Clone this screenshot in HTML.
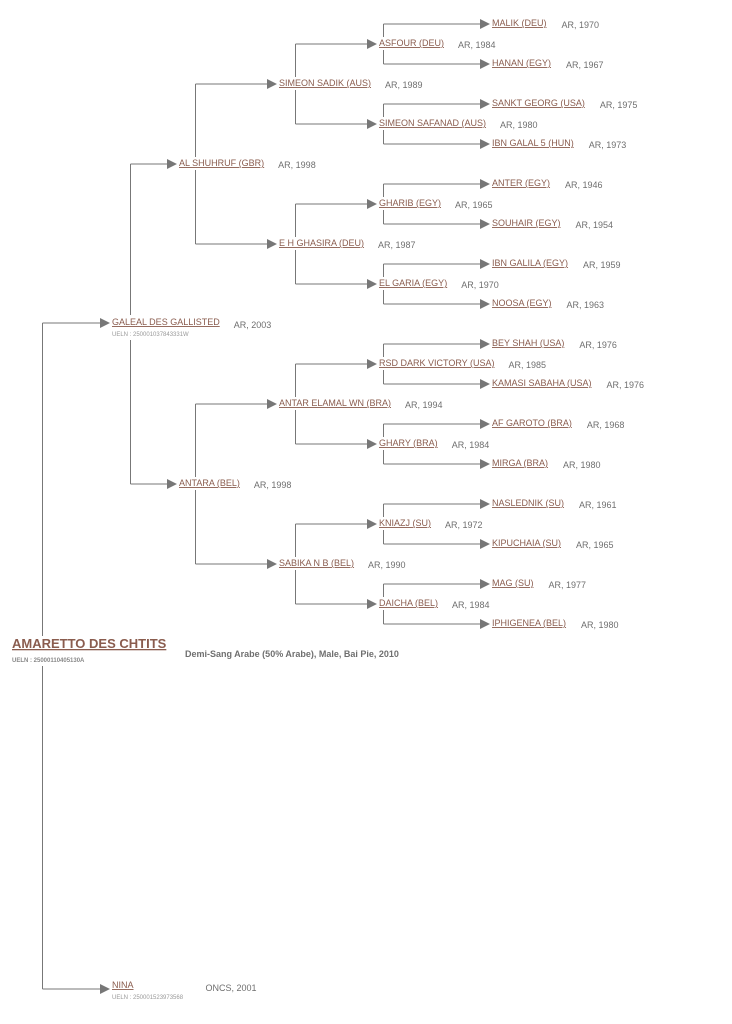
<!DOCTYPE html>
<html><head><meta charset="utf-8"><style>
body{margin:0;background:#fff;width:732px;height:1024px;overflow:hidden}
svg{display:block}
text{font-family:"Liberation Sans",sans-serif}
.n{font-size:9px;fill:#8a5c4e;text-decoration:underline}
.y{font-size:9px;fill:#6f6f6f}
.u{font-size:6px;fill:#999}
</style></head><body>
<svg width="732" height="1024" viewBox="0 0 732 1024">
<g stroke="#777" stroke-width="1" fill="none">
<path d="M383.5 24V37M383.5 50V64M383.5 24H480M383.5 64H480"/>
<path d="M383.5 104V117M383.5 130V144M383.5 104H480M383.5 144H480"/>
<path d="M383.5 184V197M383.5 210V224M383.5 184H480M383.5 224H480"/>
<path d="M383.5 264V277M383.5 290V304M383.5 264H480M383.5 304H480"/>
<path d="M383.5 344V357M383.5 370V384M383.5 344H480M383.5 384H480"/>
<path d="M383.5 424V437M383.5 450V464M383.5 424H480M383.5 464H480"/>
<path d="M383.5 504V517M383.5 530V544M383.5 504H480M383.5 544H480"/>
<path d="M383.5 584V597M383.5 610V624M383.5 584H480M383.5 624H480"/>
<path d="M295.5 44V77M295.5 90V124M295.5 44H367M295.5 124H367"/>
<path d="M295.5 204V237M295.5 250V284M295.5 204H367M295.5 284H367"/>
<path d="M295.5 364V397M295.5 410V444M295.5 364H367M295.5 444H367"/>
<path d="M295.5 524V557M295.5 570V604M295.5 524H367M295.5 604H367"/>
<path d="M195.5 84V157M195.5 170V244M195.5 84H267M195.5 244H267"/>
<path d="M195.5 404V477M195.5 490V564M195.5 404H267M195.5 564H267"/>
<path d="M130.5 164V315M130.5 340V484M130.5 164H167M130.5 484H167"/>
<path d="M42.5 323V636M42.5 666V989M42.5 323H100M42.5 989H100"/>
</g>
<g fill="#777">
<polygon points="480,19 490,24 480,29"/><polygon points="480,59 490,64 480,69"/>
<polygon points="480,99 490,104 480,109"/><polygon points="480,139 490,144 480,149"/>
<polygon points="480,179 490,184 480,189"/><polygon points="480,219 490,224 480,229"/>
<polygon points="480,259 490,264 480,269"/><polygon points="480,299 490,304 480,309"/>
<polygon points="480,339 490,344 480,349"/><polygon points="480,379 490,384 480,389"/>
<polygon points="480,419 490,424 480,429"/><polygon points="480,459 490,464 480,469"/>
<polygon points="480,499 490,504 480,509"/><polygon points="480,539 490,544 480,549"/>
<polygon points="480,579 490,584 480,589"/><polygon points="480,619 490,624 480,629"/>
<polygon points="367,39 377,44 367,49"/><polygon points="367,119 377,124 367,129"/>
<polygon points="367,199 377,204 367,209"/><polygon points="367,279 377,284 367,289"/>
<polygon points="367,359 377,364 367,369"/><polygon points="367,439 377,444 367,449"/>
<polygon points="367,519 377,524 367,529"/><polygon points="367,599 377,604 367,609"/>
<polygon points="267,79 277,84 267,89"/><polygon points="267,239 277,244 267,249"/>
<polygon points="267,399 277,404 267,409"/><polygon points="267,559 277,564 267,569"/>
<polygon points="167,159 177,164 167,169"/><polygon points="167,479 177,484 167,489"/>
<polygon points="100,318 110,323 100,328"/><polygon points="100,984 110,989 100,994"/>
</g>
<text x="492" y="26"><tspan class="n">MALIK (DEU)</tspan><tspan class="y" dx="15" dy="2">AR, 1970</tspan></text>
<text x="492" y="66"><tspan class="n">HANAN (EGY)</tspan><tspan class="y" dx="15" dy="2">AR, 1967</tspan></text>
<text x="492" y="106"><tspan class="n">SANKT GEORG (USA)</tspan><tspan class="y" dx="15" dy="2">AR, 1975</tspan></text>
<text x="492" y="146"><tspan class="n">IBN GALAL 5 (HUN)</tspan><tspan class="y" dx="15" dy="2">AR, 1973</tspan></text>
<text x="492" y="186"><tspan class="n">ANTER (EGY)</tspan><tspan class="y" dx="15" dy="2">AR, 1946</tspan></text>
<text x="492" y="226"><tspan class="n">SOUHAIR (EGY)</tspan><tspan class="y" dx="15" dy="2">AR, 1954</tspan></text>
<text x="492" y="266"><tspan class="n">IBN GALILA (EGY)</tspan><tspan class="y" dx="15" dy="2">AR, 1959</tspan></text>
<text x="492" y="306"><tspan class="n">NOOSA (EGY)</tspan><tspan class="y" dx="15" dy="2">AR, 1963</tspan></text>
<text x="492" y="346"><tspan class="n">BEY SHAH (USA)</tspan><tspan class="y" dx="15" dy="2">AR, 1976</tspan></text>
<text x="492" y="386"><tspan class="n">KAMASI SABAHA (USA)</tspan><tspan class="y" dx="15" dy="2">AR, 1976</tspan></text>
<text x="492" y="426"><tspan class="n">AF GAROTO (BRA)</tspan><tspan class="y" dx="15" dy="2">AR, 1968</tspan></text>
<text x="492" y="466"><tspan class="n">MIRGA (BRA)</tspan><tspan class="y" dx="15" dy="2">AR, 1980</tspan></text>
<text x="492" y="506"><tspan class="n">NASLEDNIK (SU)</tspan><tspan class="y" dx="15" dy="2">AR, 1961</tspan></text>
<text x="492" y="546"><tspan class="n">KIPUCHAIA (SU)</tspan><tspan class="y" dx="15" dy="2">AR, 1965</tspan></text>
<text x="492" y="586"><tspan class="n">MAG (SU)</tspan><tspan class="y" dx="15" dy="2">AR, 1977</tspan></text>
<text x="492" y="626"><tspan class="n">IPHIGENEA (BEL)</tspan><tspan class="y" dx="15" dy="2">AR, 1980</tspan></text>
<text x="379" y="46"><tspan class="n">ASFOUR (DEU)</tspan><tspan class="y" dx="14" dy="2">AR, 1984</tspan></text>
<text x="379" y="126"><tspan class="n">SIMEON SAFANAD (AUS)</tspan><tspan class="y" dx="14" dy="2">AR, 1980</tspan></text>
<text x="379" y="206"><tspan class="n">GHARIB (EGY)</tspan><tspan class="y" dx="14" dy="2">AR, 1965</tspan></text>
<text x="379" y="286"><tspan class="n">EL GARIA (EGY)</tspan><tspan class="y" dx="14" dy="2">AR, 1970</tspan></text>
<text x="379" y="366"><tspan class="n">RSD DARK VICTORY (USA)</tspan><tspan class="y" dx="14" dy="2">AR, 1985</tspan></text>
<text x="379" y="446"><tspan class="n">GHARY (BRA)</tspan><tspan class="y" dx="14" dy="2">AR, 1984</tspan></text>
<text x="379" y="526"><tspan class="n">KNIAZJ (SU)</tspan><tspan class="y" dx="14" dy="2">AR, 1972</tspan></text>
<text x="379" y="606"><tspan class="n">DAICHA (BEL)</tspan><tspan class="y" dx="14" dy="2">AR, 1984</tspan></text>
<text x="279" y="86"><tspan class="n">SIMEON SADIK (AUS)</tspan><tspan class="y" dx="14" dy="2">AR, 1989</tspan></text>
<text x="279" y="246"><tspan class="n">E H GHASIRA (DEU)</tspan><tspan class="y" dx="14" dy="2">AR, 1987</tspan></text>
<text x="279" y="406"><tspan class="n">ANTAR ELAMAL WN (BRA)</tspan><tspan class="y" dx="14" dy="2">AR, 1994</tspan></text>
<text x="279" y="566"><tspan class="n">SABIKA N B (BEL)</tspan><tspan class="y" dx="14" dy="2">AR, 1990</tspan></text>
<text x="179" y="166"><tspan class="n">AL SHUHRUF (GBR)</tspan><tspan class="y" dx="14" dy="2">AR, 1998</tspan></text>
<text x="179" y="486"><tspan class="n">ANTARA (BEL)</tspan><tspan class="y" dx="14" dy="2">AR, 1998</tspan></text>
<text x="112" y="325"><tspan class="n">GALEAL DES GALLISTED</tspan><tspan class="y" dx="14" dy="3">AR, 2003</tspan></text>
<text x="112" y="336" class="u">UELN : 250001037843331W</text>
<text x="112" y="988"><tspan class="n">NINA</tspan><tspan class="y" dx="72" dy="3">ONCS, 2001</tspan></text>
<text x="112" y="999" class="u">UELN : 250001523973568</text>
<text x="12" y="648" style="font-size:13px;font-weight:bold;fill:#8a5c4e;text-decoration:underline">AMARETTO DES CHTITS</text>
<text x="12" y="662" style="font-size:6px;font-weight:bold;fill:#888">UELN : 25000110405130A</text>
<text x="185" y="657" style="font-size:9px;font-weight:bold;fill:#6f6f6f">Demi-Sang Arabe (50% Arabe), Male, Bai Pie, 2010</text>
</svg>
</body></html>
